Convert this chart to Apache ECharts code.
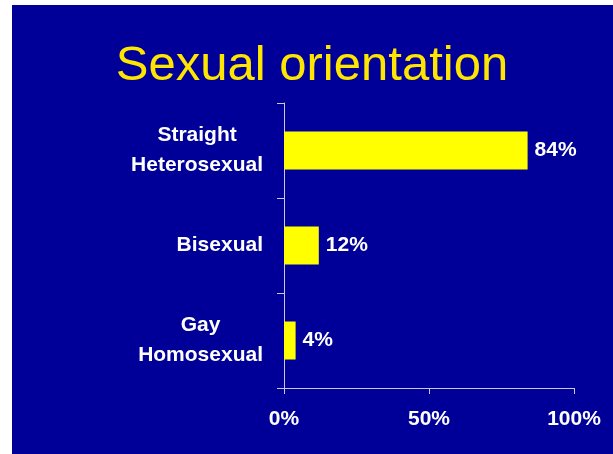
<!DOCTYPE html>
<html>
<head>
<meta charset="utf-8">
<script src="https://cdn.jsdelivr.net/npm/echarts@6/dist/echarts.min.js"></script>
<style>
  html, body { margin: 0; padding: 0; background: #ffffff; }
  #chart { width: 613px; height: 454px; }
</style>
</head>
<body>
<div id="chart"></div>
<script>
// data
const categories = ["Straight\nHeterosexual", "Bisexual", "Gay\nHomosexual"];
const shares = [84, 12, 4];
const xTicks = [0, 50, 100];

const labelFont = "'Liberation Sans', Arial, sans-serif";

const initChart = () => {
    const myChart = echarts.init(document.getElementById("chart"));

    const option = {
        backgroundColor: "#ffffff",
        animation: false,
        graphic: [{
            type: "rect",
            z: -10,
            silent: true,
            shape: { x: 12, y: 5, width: 601, height: 449 },
            style: { fill: "#000099" }
        }],
        title: {
            text: "Sexual orientation",
            left: 307,
            textAlign: "center",
            top: 35,
            textStyle: {
                color: "#ffe600",
                fontFamily: labelFont,
                fontWeight: "normal",
                fontSize: 49,
                lineHeight: 52
            }
        },
        grid: { left: 284, right: 39, top: 103, bottom: 66, containLabel: false },
        xAxis: {
            type: "value",
            min: xTicks[0],
            max: xTicks[xTicks.length - 1],
            interval: 50,
            axisLine: { show: true, lineStyle: { color: "#c8c8e6", width: 1 } },
            axisTick: { show: true, length: 6, lineStyle: { color: "#c8c8e6" } },
            splitLine: { show: false },
            axisLabel: {
                color: "#ffffff",
                fontFamily: labelFont,
                fontWeight: "bold",
                fontSize: 21,
                margin: 21,
                formatter: v => v + "%"
            }
        },
        yAxis: {
            type: "category",
            inverse: true,
            data: categories,
            axisLine: { show: true, lineStyle: { color: "#c8c8e6", width: 1 } },
            axisTick: { show: true, length: 7, lineStyle: { color: "#c8c8e6" } },
            axisLabel: {
                margin: 21,
                formatter: v => v.split("\n").map(s => "{c|" + s + "}").join("\n"),
                rich: {
                    c: {
                        align: "center",
                        color: "#ffffff",
                        fontFamily: labelFont,
                        fontWeight: "bold",
                        fontSize: 21,
                        lineHeight: 30
                    }
                }
            }
        },
        series: [{
            type: "bar",
            data: shares,
            barWidth: 38,
            itemStyle: { color: "#ffff00" },
            label: {
                show: true,
                position: "right",
                distance: 7,
                color: "#ffffff",
                fontFamily: labelFont,
                fontWeight: "bold",
                fontSize: 21,
                formatter: p => p.value + "%"
            }
        }]
    };

    myChart.setOption(option);
    myChart.resize();
};

window.addEventListener("load", () => {
    initChart();
});
</script>
</body>
</html>
